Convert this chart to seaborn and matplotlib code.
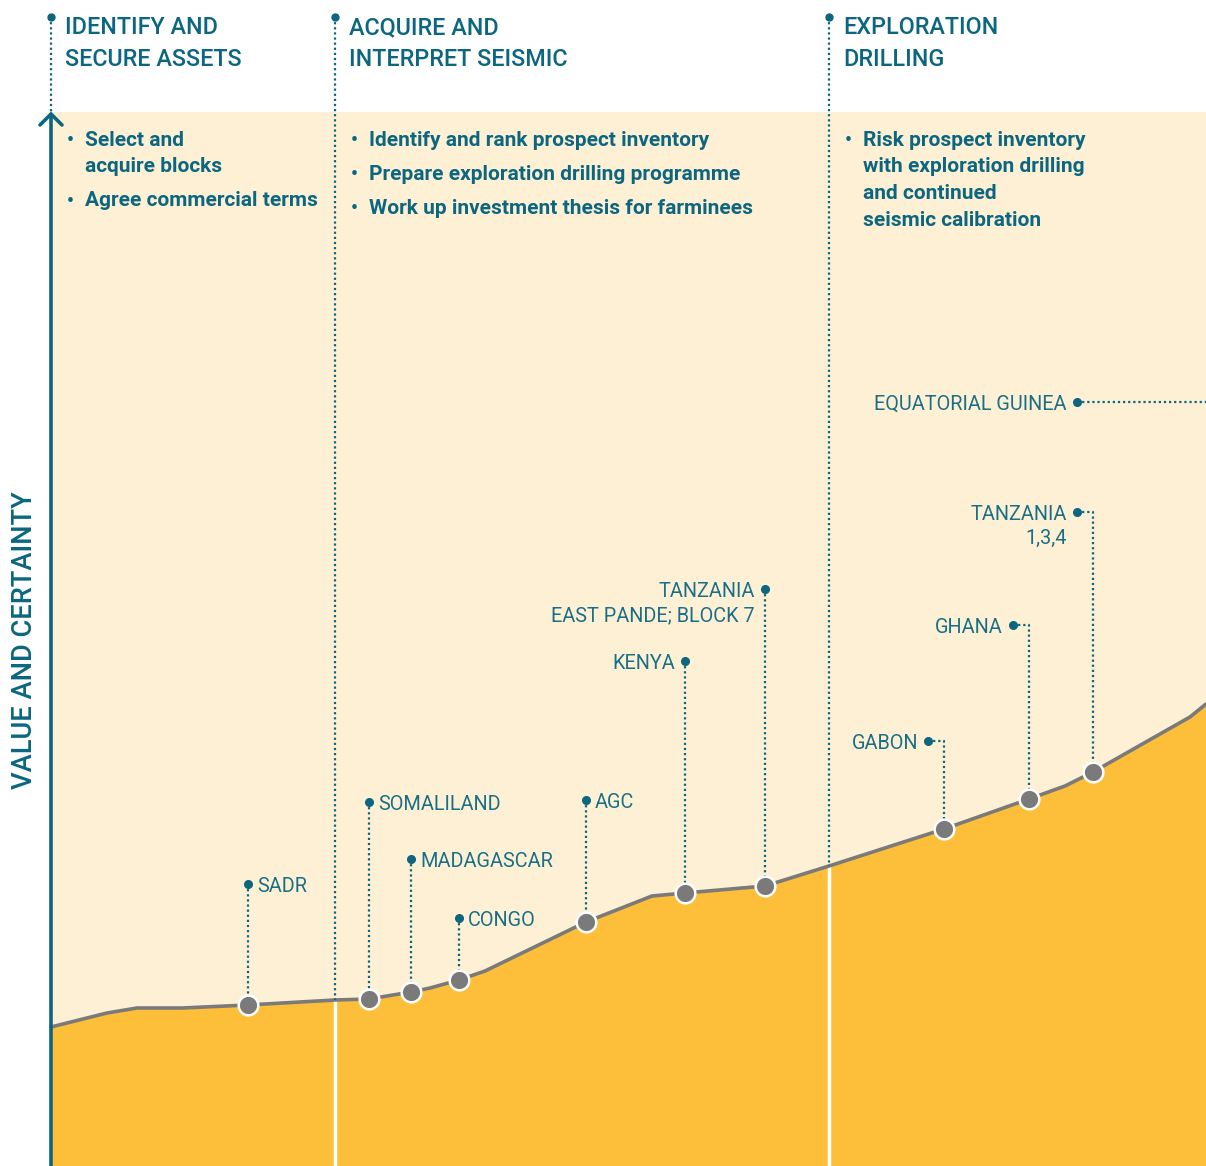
import numpy as np
import pandas as pd
import seaborn as sns
import matplotlib.pyplot as plt
from matplotlib.patches import Rectangle

# ---------------- data ----------------
phase_names = [["IDENTIFY AND", "SECURE ASSETS"],
               ["ACQUIRE AND", "INTERPRET SEISMIC"],
               ["EXPLORATION", "DRILLING"]]
phase_start = [51, 335, 829]
phase_bullets = [
    [["Select and", "acquire blocks"], ["Agree commercial terms"]],
    [["Identify and rank prospect inventory"],
     ["Prepare exploration drilling programme"],
     ["Work up investment thesis for farminees"]],
    [["Risk prospect inventory", "with exploration drilling", "and continued",
      "seismic calibration"]],
]

# value curve (progress -> value, image units, larger = lower)
curve_progress = [51, 107, 137, 182, 248, 335, 369, 411, 430, 459, 485, 586,
                  652, 685, 765, 829, 944, 1029, 1065, 1093, 1190, 1206]
curve_value = [1027, 1013, 1008, 1008, 1005, 1000, 999, 992, 988, 980, 971, 922,
               896, 893, 886, 866, 829, 799, 786, 772, 717, 704]

countries = ["SADR", "SOMALILAND", "MADAGASCAR", "CONGO", "AGC", "KENYA",
             ["TANZANIA", "EAST PANDE; BLOCK 7"], "GABON", "GHANA",
             ["TANZANIA", "1,3,4"]]
country_progress = [248, 369, 411, 459, 586, 685, 765, 944, 1029, 1093]
country_value = [1005, 999, 992, 980, 922, 893, 886, 829, 799, 772]

offchart_name = "EQUATORIAL GUINEA"

# ---------------- layout / style ----------------
label_y = [884, 802, 859, 918, 800, 661, 589, 741, 625, 512]
label_side = ["r", "r", "r", "r", "r", "l", "l", "l", "l", "l"]
label_elbow = [0, 0, 0, 0, 0, 0, 0, -16, -16, -16]
offchart_label = (1077, 402)

TEAL = "#0C6680"
TEAL_LABEL = "#1A6F86"
BEIGE = "#FEF0D5"
ORANGE = "#FDBF3A"
GRAY = "#7A7A7A"
W, H = 1206, 1166

sns.set_theme(style="white")
plt.rcParams['font.family'] = ['Roboto', 'DejaVu Sans']

fig = plt.figure(figsize=(W / 100, H / 100), dpi=100)
ax = fig.add_axes([0, 0, 1, 1])

# background panel
ax.add_patch(Rectangle((51, 112), W - 51, H - 112, color=BEIGE, zorder=0, lw=0))

# filled area under curve
ax.fill_between(curve_progress, curve_value, H, color=ORANGE, lw=0, zorder=1)

dot_ls = (0, (1, 1.3))

# phase separators
for i, px in enumerate(phase_start):
    cy = np.interp(px, curve_progress, curve_value)
    ax.plot([px], [17], 'o', color=TEAL, ms=5, zorder=6)
    if i == 0:
        ax.plot([px, px], [17, 112], color=TEAL, lw=1.6, ls=dot_ls, zorder=4)
        ax.plot([px, px], [115, H], color=TEAL, lw=2.6, zorder=6,
                solid_capstyle='butt')
        ax.plot([px - 11, px, px + 11], [125, 114, 125], color=TEAL, lw=2.6,
                zorder=6, solid_joinstyle='miter')
    else:
        ax.plot([px, px], [17, cy], color=TEAL, lw=1.6, ls=dot_ls, zorder=4)
        ax.plot([px, px], [cy, H], color="white", lw=2.5, zorder=2)
    # header
    for j, line in enumerate(phase_names[i]):
        ax.text(px + 14, 34 + j * 32, line, color=TEAL, fontsize=16.8,
                weight='medium', va='baseline', ha='left', zorder=7)
    # bullets
    yb = 146
    for bullet in phase_bullets[i]:
        ax.text(px + 16, yb, "•", color=TEAL, fontsize=14, weight='bold',
                va='baseline', ha='left', zorder=7)
        for k, line in enumerate(bullet):
            ax.text(px + 34, yb + k * 26.5, line, color=TEAL, fontsize=15,
                    weight='semibold', va='baseline', ha='left', zorder=7)
        yb += len(bullet) * 26.5 + 7.5

# curve and points
sns.lineplot(x=curve_progress, y=curve_value, ax=ax, color=GRAY, lw=2.6,
             sort=False, zorder=3)
df = pd.DataFrame({"progress": country_progress, "value": country_value})

# leaders + labels
for i, name in enumerate(countries):
    px, py = country_progress[i], country_value[i]
    dx = px + label_elbow[i]
    ly = label_y[i]
    if label_elbow[i] != 0:
        ax.plot([dx, px, px], [ly, ly, py], color=TEAL, lw=1.6, ls=dot_ls, zorder=4)
    else:
        ax.plot([px, px], [ly, py], color=TEAL, lw=1.6, ls=dot_ls, zorder=4)
    ax.plot([dx], [ly], 'o', color=TEAL, ms=5.5, zorder=6)
    lines = name if isinstance(name, list) else [name]
    for k, line in enumerate(lines):
        if label_side[i] == "r":
            ax.text(dx + 9, ly + 8 + k * 24, line, color=TEAL_LABEL, fontsize=14.3,
                    weight='normal', ha='left', va='baseline', zorder=7)
        else:
            ax.text(dx - 10, ly + 8 + k * 24, line, color=TEAL_LABEL, fontsize=14.3,
                    weight='normal', ha='right', va='baseline', zorder=7)

# off-chart label
ox, oy = offchart_label
ax.plot([ox, W], [oy, oy], color=TEAL, lw=1.6, ls=dot_ls, zorder=4)
ax.plot([ox], [oy], 'o', color=TEAL, ms=5.5, zorder=6)
ax.text(ox - 10, oy + 8, offchart_name, color=TEAL_LABEL, fontsize=14.3,
        weight='normal', ha='right', va='baseline', zorder=7)

sns.scatterplot(data=df, x="progress", y="value", ax=ax, s=200, color=GRAY,
                edgecolor="white", linewidth=1.8, zorder=8, legend=False)

# y label
ax.text(25, 640, "VALUE AND CERTAINTY", rotation=90, color=TEAL, fontsize=19.6,
        weight='medium', ha='center', va='center')

ax.set_xlim(0, W)
ax.set_ylim(H, 0)
ax.axis('off')

fig.savefig("out.png", dpi=100)
